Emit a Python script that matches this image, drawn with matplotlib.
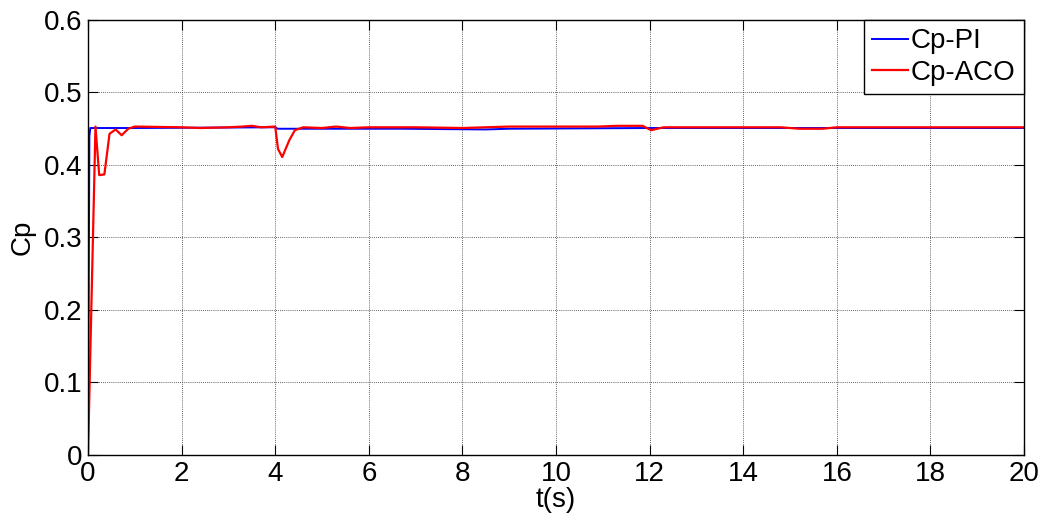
import numpy as np
import matplotlib
matplotlib.use('Agg')
import matplotlib.pyplot as plt

plt.rcParams['font.family'] = ['Liberation Sans', 'DejaVu Sans']

# Cp-PI 响应
t_pi = [0, 0.03, 0.05, 1.0, 4.0, 4.05, 6.7, 8.5, 9.0, 12.0, 20.0]
cp_pi = [0, 0.44, 0.451, 0.451, 0.452, 0.450, 0.450, 0.449, 0.450, 0.451, 0.451]

# Cp-ACO 响应
t_aco = [0, 0.16, 0.24, 0.35, 0.46, 0.59, 0.72, 0.86, 1.0, 2.0, 2.4, 3.0, 3.3, 3.5, 3.7,
         4.0, 4.06, 4.15, 4.3, 4.42, 4.6, 5.0, 5.3, 5.6, 6.0, 7.0, 8.0, 8.5, 9.0,
         10.0, 10.9, 11.3, 11.85, 12.03, 12.3, 13.0, 14.0, 14.8, 15.2, 15.7, 16.0,
         17.0, 18.0, 20.0]
cp_aco = [0, 0.453, 0.386, 0.387, 0.443, 0.449, 0.441, 0.450, 0.453, 0.452, 0.451, 0.452, 0.453, 0.454, 0.452,
          0.453, 0.422, 0.411, 0.434, 0.448, 0.452, 0.451, 0.453, 0.451, 0.452, 0.452, 0.451, 0.452, 0.453,
          0.453, 0.453, 0.454, 0.454, 0.448, 0.452, 0.452, 0.452, 0.452, 0.450, 0.450, 0.452,
          0.452, 0.452, 0.452]

fig = plt.figure(figsize=(10.45, 5.22), dpi=100)
ax = fig.add_axes([0.0842, 0.1284, 0.8958, 0.8333])

ax.plot(t_pi, cp_pi, color='#0000ff', lw=1.4, label='Cp-PI')
ax.plot(t_aco, cp_aco, color='#ff0000', lw=1.6, label='Cp-ACO')

ax.set_xlim(0, 20)
ax.set_ylim(0, 0.6)
ax.set_xticks(np.arange(0, 21, 2))
ax.set_yticks(np.arange(0, 0.61, 0.1))
ax.set_yticklabels(['0', '0.1', '0.2', '0.3', '0.4', '0.5', '0.6'])
ax.tick_params(direction='in', length=7, width=0.8, labelsize=20, pad=4,
               top=True, right=True)
ax.grid(True, linestyle=(0, (1, 1.5)), color='#333333', linewidth=0.6)
for s in ax.spines.values():
    s.set_linewidth(1.0)

ax.set_xlabel('t(s)', fontsize=20, labelpad=0)
ax.set_ylabel('Cp', fontsize=20, labelpad=6)

leg = ax.legend(loc='upper right', fontsize=20, fancybox=False, framealpha=1,
                edgecolor='black', borderaxespad=0, handlelength=1.3,
                handletextpad=0.1, borderpad=0.3, labelspacing=0.2)
leg.get_frame().set_linewidth(1.0)

fig.savefig('out.png', dpi=100)
